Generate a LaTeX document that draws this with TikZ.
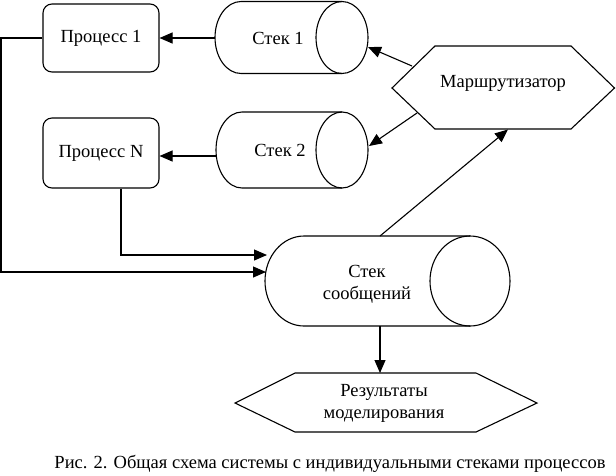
\documentclass[tikz,border=0pt]{standalone}
\usepackage{fontspec}
\setmainfont{Liberation Serif}
\usetikzlibrary{arrows.meta}
\begin{document}
\begin{tikzpicture}[x=1pt,y=-1pt,line width=1.1pt,
  txt/.style={font=\fontsize{18.5}{22}\selectfont, align=center, inner sep=0pt},
  box/.style={draw, rounded corners=9pt, minimum width=116pt, minimum height=68pt, txt},
  arr/.style={-{Triangle[length=13pt,width=11pt]}}]
\useasboundingbox (0,0) rectangle (616,475);
% process boxes
\node[box] (p1) at (101,38) {Процесс 1};
\node[box, minimum height=70pt] (pn) at (101,153) {Процесс N};
% stack 1
\draw (342,1.5) -- (241,1.5) arc[start angle=270,end angle=90,x radius=26,y radius=36] -- (342,73.5);
\draw (342,37.5) ellipse[x radius=26,y radius=36];
\node[txt] (s1) at (278,38) {Стек 1};
% stack 2
\draw (342,112) -- (242,112) arc[start angle=270,end angle=90,x radius=26,y radius=38] -- (342,188);
\draw (342,150) ellipse[x radius=26,y radius=38];
\node[txt] (s2) at (280,150) {Стек 2};
% message stack
\draw (470,236) -- (304,236) arc[start angle=270,end angle=90,x radius=39,y radius=45] -- (470,326);
\draw (470,281) ellipse[x radius=40,y radius=45];
\node[txt] (sm) at (367,284) {Стек\\сообщений};
% router
\draw (392,88) -- (435,46) -- (571,46) -- (614.5,88) -- (571,129) -- (435,129) -- cycle;
\node[txt] (r) at (503,83) {Маршрутизатор};
% results
\draw (235,403) -- (295,373) -- (476,373) -- (537,403) -- (476,432) -- (295,432) -- cycle;
\node[txt] (res) at (384,403) {Результаты\\моделирования};
% caption
\node[txt] (cap) at (330,464) {Рис. 2. Общая схема системы с индивидуальными стеками процессов};
% coordinates
\coordinate (s1w) at (215,38);
\coordinate (s2w) at (216.5,156);
\coordinate (ra1) at (412,66);
\coordinate (sa1) at (368,47);
\coordinate (ra2) at (417,113);
\coordinate (sa2) at (369,146);
\coordinate (smt) at (380,236);
\coordinate (rb) at (508,129.5);
\coordinate (smb) at (380,326);
\coordinate (rest) at (380,373);
\coordinate (smw1) at (267,255);
\coordinate (smw2) at (266,272);
\coordinate (lft) at (1,38);
% connectors
\draw[arr] (s1w) -- (s1w -| p1.east);
\draw[arr] (s2w) -- (s2w -| pn.east);
\draw[arr] (ra1) -- (sa1);
\draw[arr] (ra2) -- (sa2);
\draw[arr] (smt) -- (rb);
\draw[arr] (smb) -- (rest);
\draw[arr] (p1.west) -- (lft) |- (smw2);
\draw[arr] (pn.south -| 121,0) |- (smw1);
\end{tikzpicture}
\end{document}
